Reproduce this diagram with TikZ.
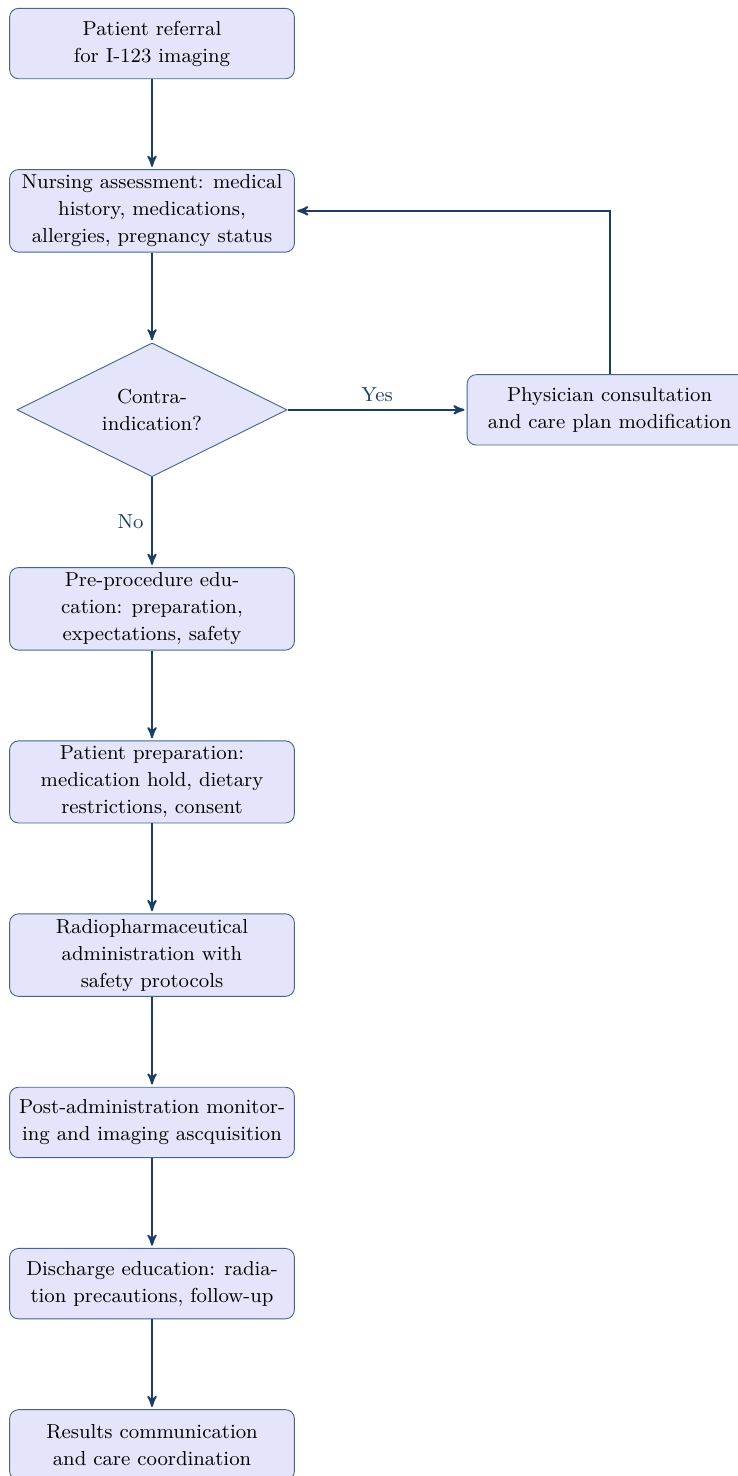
\documentclass[tikz,border=0pt]{standalone}
\usetikzlibrary{arrows, shapes.geometric, positioning}
\definecolor{boxfill}{RGB}{228,228,250}
\definecolor{boxline}{RGB}{72,100,140}
\definecolor{flowline}{RGB}{28,62,100}
\begin{document}
\begin{tikzpicture}[->,>=stealth',shorten >=1pt,auto,node distance=1.405cm,
  thick,color=flowline,font=\fontsize{9}{12}\selectfont,
  step node/.style={rectangle,rounded corners=4pt,fill=boxfill,draw=boxline,thin,text=black,align=center,minimum width=4.45cm,minimum height=1.1cm,inner xsep=2pt,inner ysep=2.3pt},
  decision node/.style={diamond,aspect=2,fill=boxfill,draw=boxline,thin,text=black,align=center,minimum width=4.22cm,minimum height=2.09cm,inner sep=1pt}]
  \useasboundingbox (-2.375,0.68) rectangle (9.14,-22.38);
  \node[step node] (referral) {Patient referral\\for I-123 imaging};
  \node[step node] (assess) [below=of referral] {Nursing assessment: medical\\history, medications,\\allergies, pregnancy status};
  \node[decision node] (contra) [below=of assess] {Contra-\\indication?};
  \node[step node] (consult) [right=2.8cm of contra] {Physician consultation\\and care plan modification};
  \node[step node] (educate) [below=of contra] {Pre-procedure edu-\\cation: preparation,\\expectations, safety};
  \node[step node] (prepare) [below=of educate] {Patient preparation:\\medication hold, dietary\\restrictions, consent};
  \node[step node] (admin) [below=of prepare] {Radiopharmaceutical\\administration with\\safety protocols};
  \node[step node] (monitor) [below=of admin] {Post-administration monitor-\\ing and imaging ascquisition};
  \node[step node] (discharge) [below=of monitor] {Discharge education: radia-\\tion precautions, follow-up};
  \node[step node] (results) [below=of discharge] {Results communication\\and care coordination};
  \path
     (referral) edge (assess)
     (assess) edge (contra)
     (contra) edge node {Yes} (consult)
     (contra) edge node [left] {No} (educate)
     (educate) edge (prepare)
     (prepare) edge (admin)
     (admin) edge (monitor)
     (monitor) edge (discharge)
     (discharge) edge (results);
  \draw (consult) |- (assess);
\end{tikzpicture}
\end{document}
